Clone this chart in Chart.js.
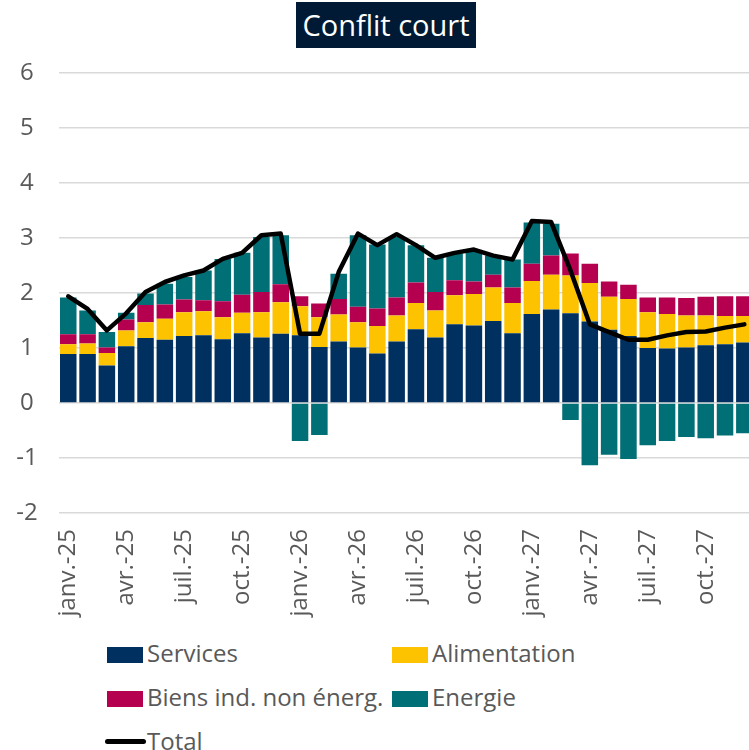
<!DOCTYPE html>
<html>
<head>
<meta charset="utf-8">
<script src="https://cdn.jsdelivr.net/npm/chart.js@4/dist/chart.umd.min.js"></script>
<style>
    body { margin: 0; background: #fff; overflow: hidden; }
    #page { position: relative; width: 749px; height: 750px; overflow: hidden; font-family: 'Open Sans', sans-serif; }
    #titre { position: absolute; left: 296px; top: 2px; width: 180px; height: 46px; background: #001a35;
             color: #fff; font-size: 29px; line-height: 46px; text-align: center; }
    #grafico { position: absolute; left: 0; top: 0; }
    .leg { position: absolute; font-size: 24px; color: #595959; line-height: 26px; white-space: nowrap; }
    .leg span.box { display: inline-block; width: 36px; height: 16px; vertical-align: -1px; margin-right: 4px; }
    .leg span.ligne { display: inline-block; width: 41px; height: 5px; border-radius: 3px; background: #000; vertical-align: 6px; margin-right: 1px; }
</style>
</head>
<body>
<div id="page">
    <canvas id="grafico" width="754" height="625"></canvas>
    <div id="titre">Conflit court</div>
    <div id="leyenda"></div>
</div>
<script>
// mois (janv.-25 a déc.-27)
var categories = [
    'janv.-25', 'févr.-25', 'mars-25', 'avr.-25', 'mai-25', 'juin-25', 'juil.-25', 'août-25', 'sept.-25', 'oct.-25', 'nov.-25', 'déc.-25',
    'janv.-26', 'févr.-26', 'mars-26', 'avr.-26', 'mai-26', 'juin-26', 'juil.-26', 'août-26', 'sept.-26', 'oct.-26', 'nov.-26', 'déc.-26',
    'janv.-27', 'févr.-27', 'mars-27', 'avr.-27', 'mai-27', 'juin-27', 'juil.-27', 'août-27', 'sept.-27', 'oct.-27', 'nov.-27', 'déc.-27'
];

var services = [0.89, 0.89, 0.68, 1.03, 1.18, 1.15, 1.22, 1.23, 1.16, 1.27, 1.19, 1.26,
    1.23, 1.02, 1.12, 1.01, 0.90, 1.12, 1.34, 1.19, 1.43, 1.41, 1.49, 1.27,
    1.62, 1.70, 1.63, 1.48, 1.33, 1.22, 1.00, 0.99, 1.01, 1.05, 1.07, 1.10];

var alimentation = [0.18, 0.19, 0.23, 0.29, 0.29, 0.38, 0.43, 0.44, 0.40, 0.37, 0.46, 0.57,
    0.53, 0.54, 0.49, 0.46, 0.50, 0.47, 0.48, 0.49, 0.53, 0.57, 0.61, 0.55,
    0.60, 0.63, 0.69, 0.70, 0.60, 0.67, 0.65, 0.63, 0.58, 0.54, 0.51, 0.48];

var biens = [0.18, 0.17, 0.10, 0.20, 0.31, 0.26, 0.23, 0.20, 0.29, 0.33, 0.37, 0.33,
    0.18, 0.25, 0.28, 0.28, 0.32, 0.33, 0.37, 0.34, 0.27, 0.23, 0.23, 0.28,
    0.31, 0.35, 0.40, 0.35, 0.28, 0.26, 0.27, 0.30, 0.32, 0.34, 0.36, 0.36];

var energie = [0.67, 0.43, 0.28, 0.12, 0.21, 0.38, 0.41, 0.54, 0.77, 0.76, 1.00, 0.89,
    -0.69, -0.58, 0.46, 1.30, 1.16, 1.10, 0.68, 0.62, 0.49, 0.55, 0.35, 0.51,
    0.75, 0.58, -0.31, -1.13, -0.94, -1.02, -0.77, -0.69, -0.62, -0.64, -0.59, -0.55];

var total = [1.94, 1.71, 1.32, 1.63, 2.02, 2.20, 2.32, 2.41, 2.62, 2.73, 3.05, 3.08,
    1.26, 1.26, 2.38, 3.08, 2.87, 3.07, 2.87, 2.64, 2.73, 2.79, 2.68, 2.61,
    3.31, 3.29, 2.41, 1.43, 1.29, 1.15, 1.15, 1.23, 1.29, 1.30, 1.37, 1.43];

var yTicks = [-2, -1, 0, 1, 2, 3, 4, 5, 6];

var colores = {
    services: '#00305f',
    alimentation: '#fdc300',
    biens: '#b5004f',
    energie: '#006f76',
    total: '#000000'
};

function barra(label, data, color) {
    return {
        type: 'bar',
        label: label,
        data: data,
        backgroundColor: color,
        borderWidth: 0,
        barPercentage: 0.855,
        categoryPercentage: 1,
        stack: 'composantes',
        order: 1
    };
}

var ctx = document.getElementById('grafico');
var chart = new Chart(ctx, {
    data: {
        labels: categories,
        datasets: [
            barra('Services', services, colores.services),
            barra('Alimentation', alimentation, colores.alimentation),
            barra('Biens ind. non énerg.', biens, colores.biens),
            barra('Energie', energie, colores.energie),
            {
                type: 'line',
                label: 'Total',
                data: total,
                borderColor: colores.total,
                borderWidth: 4.5,
                pointRadius: 0,
                tension: 0,
                borderJoinStyle: 'round',
                borderCapStyle: 'round',
                stack: 'total',
                order: 0
            }
        ]
    },
    options: {
        responsive: false,
        animation: false,
        layout: { padding: { top: 73, right: 0, left: 0, bottom: 0 } },
        plugins: {
            legend: { display: false },
            tooltip: { enabled: false }
        },
        scales: {
            x: {
                stacked: true,
                grid: { display: false, drawTicks: false },
                border: { display: false },
                ticks: {
                    autoSkip: false,
                    minRotation: 90,
                    maxRotation: 90,
                    padding: 16,
                    color: '#595959',
                    font: { family: 'Open Sans', size: 24 },
                    callback: function (value, index) {
                        return index % 3 === 0 ? categories[index] : '';
                    }
                },
                afterFit: function (scale) {
                    scale.height = 112;
                    scale.paddingLeft = 0;
                    scale.paddingRight = 0;
                }
            },
            y: {
                stacked: true,
                min: yTicks[0],
                max: yTicks[yTicks.length - 1],
                afterBuildTicks: function (scale) {
                    scale.ticks = yTicks.map(function (v) { return { value: v }; });
                },
                grid: { color: '#d9d9d9', lineWidth: 1.5, drawTicks: false },
                border: { display: false },
                ticks: {
                    color: '#595959',
                    padding: 21,
                    crossAlign: 'center',
                    font: { family: 'Open Sans', size: 24 }
                },
                afterFit: function (scale) { scale.width = 58.6; }
            }
        }
    }
});

// leyenda en dos columnas
var posiciones = [
    { left: 107, top: 640 },
    { left: 392, top: 640 },
    { left: 107, top: 684 },
    { left: 392, top: 684 },
    { left: 105, top: 728 }
];
var leyenda = document.getElementById('leyenda');
chart.data.datasets.forEach(function (ds, i) {
    var div = document.createElement('div');
    div.className = 'leg';
    div.style.left = posiciones[i].left + 'px';
    div.style.top = posiciones[i].top + 'px';
    var marca = document.createElement('span');
    if (ds.type === 'line') {
        marca.className = 'ligne';
    } else {
        marca.className = 'box';
        marca.style.background = ds.backgroundColor;
    }
    div.appendChild(marca);
    div.appendChild(document.createTextNode(ds.label));
    leyenda.appendChild(div);
});
</script>
</body>
</html>
